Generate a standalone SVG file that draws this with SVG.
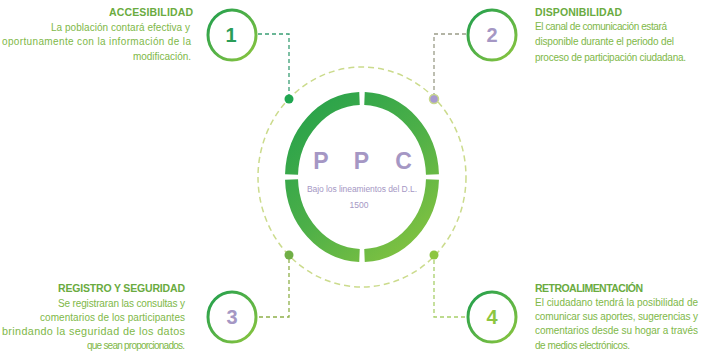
<svg xmlns="http://www.w3.org/2000/svg" width="708" height="358" viewBox="0 0 708 358">
<defs>
<linearGradient id="cg" x1="0" y1="0" x2="1" y2="1">
<stop offset="0" stop-color="#1f9e4e"/>
<stop offset="1" stop-color="#8dc63f"/>
</linearGradient>
<linearGradient id="rg" gradientUnits="userSpaceOnUse" x1="290" y1="95" x2="434" y2="259">
<stop offset="0" stop-color="#22a04b"/>
<stop offset="0.5" stop-color="#4caf48"/>
<stop offset="1" stop-color="#8dc63f"/>
</linearGradient>
</defs>
<style>
.nc{fill:#fff;stroke:url(#cg);stroke-width:3}
.num{font-family:"Liberation Sans",Arial,sans-serif;font-weight:bold;font-size:20px;text-anchor:middle}
.hd{font-family:"Liberation Sans",Arial,sans-serif;font-weight:bold;font-size:10.5px;fill:#6aab40}
.bd{font-family:"Liberation Sans",Arial,sans-serif;font-size:10px;fill:#80b848}
.bd2{font-size:10.8px}
.con{fill:none;stroke-width:1.3;stroke-dasharray:4 3}
.seg{fill:none;stroke:url(#rg);stroke-width:13}
.ppc{font-family:"Liberation Sans",Arial,sans-serif;font-weight:bold;font-size:23px;fill:#a597c4;text-anchor:middle}
.sub{font-family:"Liberation Sans",Arial,sans-serif;font-size:8.5px;fill:#a597c4;text-anchor:middle}
</style>
<g id="center">
<ellipse cx="362" cy="177" rx="104" ry="110" fill="none" stroke="#cbdb8c" stroke-width="1.5" stroke-dasharray="6 4"/>
<path class="seg" d="M359.5 98.55 A70.5 78.5 0 0 0 291.54 174.5"/>
<path class="seg" d="M364.5 98.55 A70.5 78.5 0 0 1 432.46 174.5"/>
<path class="seg" d="M291.54 179.5 A70.5 78.5 0 0 0 359.5 255.45"/>
<path class="seg" d="M432.46 179.5 A70.5 78.5 0 0 1 364.5 255.45"/>
<text class="ppc" x="321" y="169">P</text>
<text class="ppc" x="361.5" y="169">P</text>
<text class="ppc" x="403.5" y="169">C</text>
<text class="sub" x="362" y="192" textLength="110" lengthAdjust="spacing">Bajo los lineamientos del D.L.</text>
<text class="sub" x="359" y="208">1500</text>
</g>
<g id="connectors">
<path class="con" stroke="#3a9e74" d="M258 34 H289 V95"/>
<path class="con" stroke="#9a9c88" d="M466 34 H434 V95"/>
<path class="con" stroke="#8fb04a" d="M259 317 H289 V259"/>
<path class="con" stroke="#a8cf6a" d="M465 317 H434 V259"/>
<circle cx="289" cy="99" r="4.5" fill="#1fa650"/>
<circle cx="434" cy="99" r="4.5" fill="#a79ad0" stroke="#c8d88c" stroke-width="1.5"/>
<circle cx="289" cy="255" r="4.5" fill="#6fae45"/>
<circle cx="434" cy="255" r="4.5" fill="#8dc63f"/>
</g>
<g id="node1">
<ellipse class="nc" cx="232" cy="35" rx="24" ry="25"/>
<text class="num" x="231" y="42" fill="#2a9d57">1</text>
<text class="hd" x="109" y="16" textLength="84" lengthAdjust="spacing">ACCESIBILIDAD</text>
<text class="bd" x="51" y="31" textLength="139" lengthAdjust="spacing">La población contará efectiva y</text>
<text class="bd" x="2" y="45" textLength="189" lengthAdjust="spacing">oportunamente con la información de la</text>
<text class="bd" x="133" y="60" textLength="58" lengthAdjust="spacing">modificación.</text>
</g>
<g id="node2">
<ellipse class="nc" cx="492" cy="35" rx="24" ry="25"/>
<text class="num" x="492" y="42" fill="#a597c4">2</text>
<text class="hd" x="535" y="16" textLength="87" lengthAdjust="spacing">DISPONIBILIDAD</text>
<text class="bd" x="535" y="30" textLength="132" lengthAdjust="spacing">El canal de comunicación estará</text>
<text class="bd" x="535" y="45" textLength="139" lengthAdjust="spacing">disponible durante el periodo del</text>
<text class="bd" x="535" y="61" textLength="151" lengthAdjust="spacing">proceso de participación ciudadana.</text>
</g>
<g id="node3">
<ellipse class="nc" cx="232" cy="317" rx="24" ry="25"/>
<text class="num" x="232" y="324" fill="#a597c4">3</text>
<text class="hd" x="58" y="292" textLength="127" lengthAdjust="spacing">REGISTRO Y SEGURIDAD</text>
<text class="bd" x="58" y="307" textLength="127" lengthAdjust="spacing">Se registraran las consultas y</text>
<text class="bd" x="40" y="321" textLength="145" lengthAdjust="spacing">comentarios de los participantes</text>
<text class="bd bd2" x="2" y="335" textLength="183" lengthAdjust="spacing">brindando la seguridad de los datos</text>
<text class="bd" x="87" y="349" textLength="98" lengthAdjust="spacing">que sean proporcionados.</text>
</g>
<g id="node4">
<ellipse class="nc" cx="492" cy="317" rx="24" ry="25"/>
<text class="num" x="492" y="324" fill="#8dc63f">4</text>
<text class="hd" x="535" y="292" textLength="108" lengthAdjust="spacing">RETROALIMENTACIÓN</text>
<text class="bd" x="535" y="306" textLength="163" lengthAdjust="spacing">El ciudadano tendrá la posibilidad de</text>
<text class="bd" x="535" y="320" textLength="163" lengthAdjust="spacing">comunicar sus aportes, sugerencias y</text>
<text class="bd" x="535" y="334" textLength="163" lengthAdjust="spacing">comentarios desde su hogar a través</text>
<text class="bd" x="535" y="349" textLength="95" lengthAdjust="spacing">de medios electrónicos.</text>
</g>
</svg>
